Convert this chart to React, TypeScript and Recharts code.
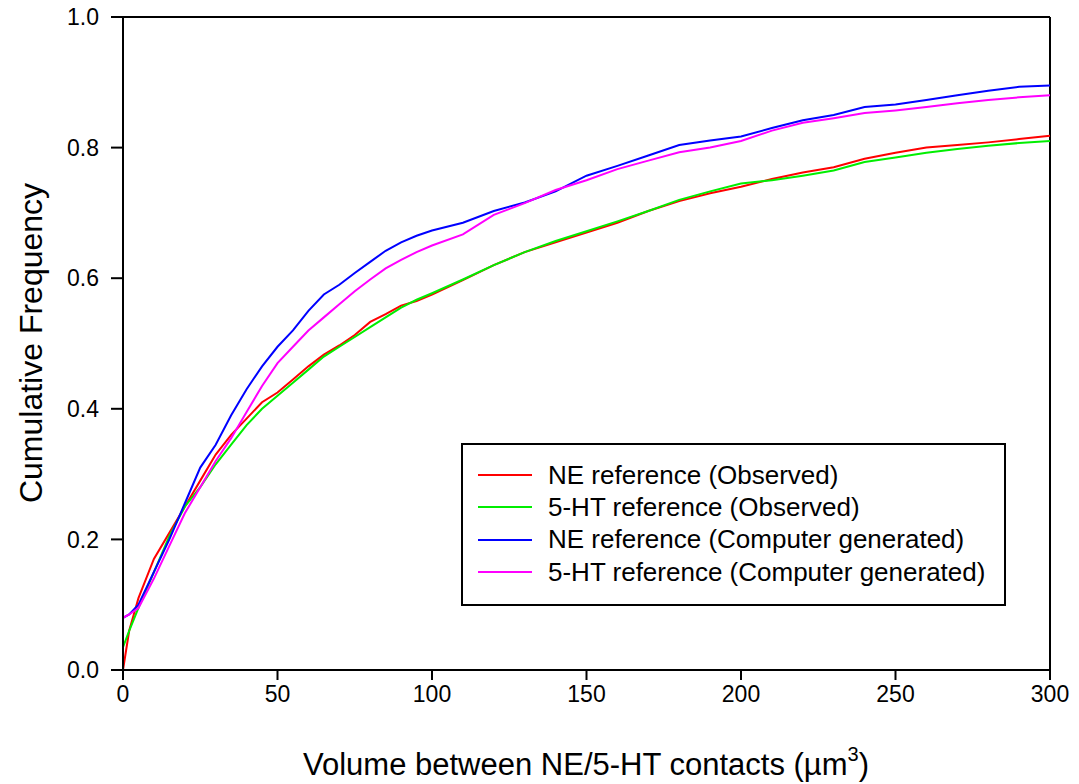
import React from 'react';
import { LineChart, Line, XAxis, YAxis, ReferenceLine, Legend } from 'recharts';

// volume (µm³) – x = 0 appears twice for the vertical jump at the origin
const volumes = [0, 0, 2, 5, 10, 15, 20, 25, 30, 35, 40, 45, 50, 55, 60, 65, 70, 75, 80, 85, 90, 95, 100,
  110, 120, 130, 140, 150, 160, 170, 180, 190, 200, 210, 220, 230, 240, 250, 260, 270, 280, 290, 300];

const neObserved = [0, 0, 0.06, 0.11, 0.17, 0.21, 0.25, 0.29, 0.33, 0.36, 0.385, 0.41, 0.425, 0.445, 0.465, 0.483,
  0.497, 0.513, 0.533, 0.545, 0.558, 0.565, 0.575, 0.597, 0.62, 0.64, 0.655, 0.67, 0.685, 0.703, 0.718, 0.73, 0.74,
  0.752, 0.762, 0.77, 0.783, 0.792, 0.8, 0.804, 0.808, 0.813, 0.818];

const htObserved = [0, 0.035, 0.06, 0.095, 0.15, 0.205, 0.25, 0.28, 0.315, 0.345, 0.375, 0.4, 0.42, 0.44, 0.46, 0.48,
  0.495, 0.51, 0.525, 0.54, 0.555, 0.567, 0.577, 0.598, 0.62, 0.64, 0.657, 0.672, 0.687, 0.703, 0.72, 0.733, 0.745,
  0.75, 0.757, 0.765, 0.778, 0.785, 0.792, 0.798, 0.803, 0.807, 0.81];

const neGenerated = [0, 0.08, 0.085, 0.1, 0.15, 0.2, 0.255, 0.31, 0.345, 0.39, 0.43, 0.465, 0.495, 0.52, 0.55, 0.575,
  0.59, 0.608, 0.625, 0.642, 0.655, 0.665, 0.673, 0.685, 0.703, 0.716, 0.733, 0.757, 0.772, 0.788, 0.804, 0.811, 0.817,
  0.83, 0.842, 0.85, 0.862, 0.866, 0.873, 0.88, 0.887, 0.893, 0.895];

const htGenerated = [0, 0.08, 0.085, 0.095, 0.14, 0.19, 0.24, 0.28, 0.32, 0.355, 0.395, 0.435, 0.47, 0.495, 0.52, 0.54,
  0.56, 0.58, 0.598, 0.615, 0.628, 0.64, 0.65, 0.667, 0.697, 0.715, 0.735, 0.75, 0.767, 0.78, 0.793, 0.8, 0.81,
  0.826, 0.838, 0.845, 0.853, 0.857, 0.862, 0.868, 0.873, 0.877, 0.88];

const xTicks = [0, 50, 100, 150, 200, 250, 300];
const yTicks = [0, 0.2, 0.4, 0.6, 0.8, 1.0];

const series = [
  { key: 'neObs', name: 'NE reference (Observed)', color: '#ff0000' },
  { key: 'htObs', name: '5-HT reference (Observed)', color: '#00ee00' },
  { key: 'neGen', name: 'NE reference (Computer generated)', color: '#0000ff' },
  { key: 'htGen', name: '5-HT reference (Computer generated)', color: '#ff00ff' },
];

const data = volumes.map((v, i) => ({
  vol: v,
  neObs: neObserved[i],
  htObs: htObserved[i],
  neGen: neGenerated[i],
  htGen: htGenerated[i],
}));

const FONT = 'Arial, "Liberation Sans", sans-serif';

const XLabel = () => (
  <text x={586} y={775} textAnchor="middle" fontFamily={FONT} fontSize={31} fill="#000">
    Volume between NE/5-HT contacts (µm
    <tspan dy={-14} fontSize={20}>3</tspan>
    <tspan dy={14}>)</tspan>
  </text>
);

const YLabel = () => (
  <text x={42} y={343} textAnchor="middle" fontFamily={FONT} fontSize={32} fill="#000"
    transform="rotate(-90, 42, 343)">
    Cumulative Frequency
  </text>
);

const LegendBox = () => (
  <div style={{
    border: '2px solid #000', background: '#fff', width: 541, height: 145, boxSizing: 'content-box',
    paddingTop: 14, fontFamily: FONT, fontSize: 26, color: '#000',
  }}>
    {series.map(s => (
      <div key={s.key} style={{ display: 'flex', alignItems: 'center', height: 32.3 }}>
        <svg width={85} height={10} style={{ flexShrink: 0 }}>
          <line x1={15} x2={69} y1={5} y2={5} stroke={s.color} strokeWidth={2} />
        </svg>
        <span style={{ whiteSpace: 'nowrap' }}>{s.name}</span>
      </div>
    ))}
  </div>
);

export default function App() {
  return (
    <div style={{ position: 'absolute', left: 0, top: 0, background: '#fff' }}>
      <LineChart width={1079} height={784} data={data} margin={{ top: 17, right: 29, bottom: 0, left: 0 }}>
        <XAxis dataKey="vol" type="number" domain={[0, 300]} ticks={xTicks} height={114}
          stroke="#000" strokeWidth={2} tickSize={10} tickMargin={6}
          tick={{ fill: '#000', fontSize: 23, fontFamily: FONT }} label={<XLabel />} />
        <YAxis type="number" domain={[0, 1]} ticks={yTicks} width={123}
          stroke="#000" strokeWidth={2} tickSize={12} tickMargin={12}
          tickFormatter={(v: number) => v.toFixed(1)}
          tick={{ fill: '#000', fontSize: 23, fontFamily: FONT }} label={<YLabel />} />
        <ReferenceLine y={1} stroke="#000" strokeWidth={2} />
        <ReferenceLine x={300} stroke="#000" strokeWidth={2} />
        {series.map(s => (
          <Line key={s.key} dataKey={s.key} name={s.name} stroke={s.color} strokeWidth={2}
            dot={false} type="linear" isAnimationActive={false} />
        ))}
        <Legend content={<LegendBox />} layout="horizontal" verticalAlign="middle" align="center"
          wrapperStyle={{ position: 'absolute', left: 461, top: 443, width: 545, height: 163 }} />
      </LineChart>
    </div>
  );
}
